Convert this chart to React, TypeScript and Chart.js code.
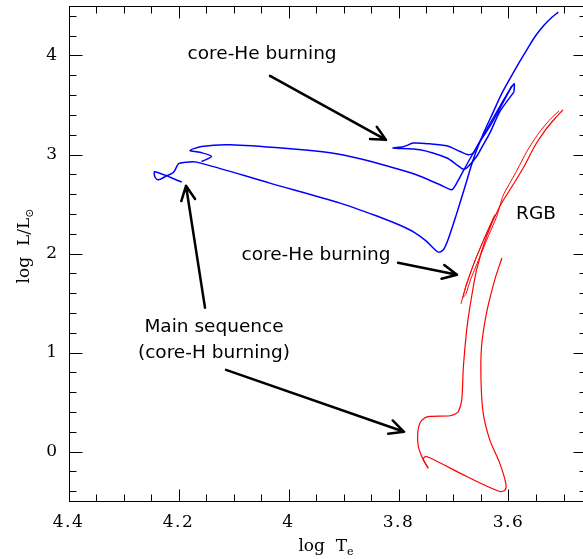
import React, { useEffect, useRef } from "react";
import { Chart, registerables } from "chart.js";
Chart.register(...registerables);

type P = [number, number];

// axis ranges and ticks
const xRange: P = [3.46, 4.4];
const yRange: P = [-0.5, 4.5];
const xTickValues = [4.4, 4.2, 4.0, 3.8, 3.6];
const yTickValues = [0, 1, 2, 3, 4];

// blue track: pre-main-sequence (Hayashi + Henyey) ending on the ZAMS
const bluePreMS: P[] = [
  [3.5095, 4.438], [3.521, 4.386], [3.5355, 4.305], [3.550, 4.204], [3.5645, 4.078],
  [3.581, 3.926], [3.597, 3.770], [3.613, 3.608], [3.628, 3.426], [3.6455, 3.214],
  [3.663, 2.967], [3.679, 2.677], [3.694, 2.408], [3.710, 2.138], [3.7185, 2.037],
  [3.7276, 2.014], [3.7373, 2.058], [3.750, 2.128], [3.770, 2.209], [3.7973, 2.285],
  [3.8336, 2.366], [3.906, 2.509], [4.034, 2.711], [4.167, 2.923], [4.188, 2.921],
  [4.200, 2.906], [4.209, 2.820], [4.223, 2.780], [4.237, 2.744], [4.243, 2.775],
  [4.243, 2.826], [4.194, 2.721],
];

// blue track: main sequence hook, Hertzsprung gap and RGB
const blueGapRGB: P[] = [
  [4.158, 2.929], [4.140, 2.980], [4.161, 3.022], [4.179, 3.040], [4.158, 3.081],
  [4.106, 3.098], [3.997, 3.058], [3.9245, 3.017], [3.870, 2.957], [3.8155, 2.876],
  [3.770, 2.800], [3.7245, 2.694], [3.7033, 2.643], [3.697, 2.684], [3.688, 2.775],
  [3.670, 2.957], [3.643, 3.219], [3.616, 3.482], [3.590, 3.714], [3.590, 3.633],
];

// blue track: core-He burning loop and AGB
const blueCoreHe: P[] = [
  [3.590, 3.633], [3.616, 3.431], [3.634, 3.216], [3.646, 3.098], [3.658, 2.980],
  [3.676, 2.863], [3.683, 2.853], [3.694, 2.896], [3.712, 2.964], [3.761, 3.047],
  [3.810, 3.065], [3.791, 3.078], [3.773, 3.115], [3.743, 3.108], [3.712, 3.088],
  [3.688, 3.030], [3.673, 2.997], [3.664, 3.014], [3.652, 3.131], [3.634, 3.283],
  [3.616, 3.462], [3.594, 3.694],
];

// red track: pre-main-sequence
const redPreMS: P[] = [
  [3.612, 1.954], [3.625, 1.734], [3.640, 1.398], [3.649, 1.061], [3.650, 0.724],
  [3.646, 0.388], [3.634, 0.118], [3.616, -0.117], [3.605, -0.319], [3.606, -0.387],
  [3.616, -0.404], [3.676, -0.253], [3.749, -0.051], [3.755, -0.075], [3.746, -0.168],
];

// red track: main sequence, subgiant branch and RGB
const redMSRGB: P[] = [
  [3.746, -0.168], [3.755, -0.084], [3.764, 0.051], [3.765, 0.186], [3.761, 0.287],
  [3.752, 0.340], [3.743, 0.354], [3.706, 0.361], [3.696, 0.381], [3.691, 0.404],
  [3.685, 0.522], [3.682, 0.859], [3.676, 1.229], [3.670, 1.465], [3.658, 1.835],
  [3.640, 2.172], [3.616, 2.475], [3.594, 2.674], [3.572, 2.876], [3.552, 3.088],
  [3.534, 3.239], [3.516, 3.361], [3.501, 3.451],
];

// red track: core-He burning and AGB
const redCoreHe: P[] = [
  [3.6864, 1.492], [3.676, 1.701], [3.6578, 1.970], [3.6396, 2.206], [3.6245, 2.391],
  [3.6282, 2.351], [3.6436, 2.159], [3.6618, 1.916], [3.6773, 1.667], [3.6827, 1.556],
  [3.6773, 1.593], [3.6691, 1.734], [3.6536, 1.946], [3.6364, 2.179], [3.6209, 2.381],
  [3.610, 2.583], [3.588, 2.805], [3.566, 3.037], [3.546, 3.209], [3.526, 3.345],
  [3.508, 3.441],
];

// annotations (data coordinates)
const noteTexts: { text: string; x: number; y: number }[] = [
  { text: "core-He burning", x: 4.048, y: 4.017 },
  { text: "core-He burning", x: 3.95, y: 1.987 },
  { text: "RGB", x: 3.55, y: 2.401 },
  { text: "Main sequence", x: 4.1355, y: 1.26 },
  { text: "(core-H burning)", x: 4.1355, y: 0.997 },
];
const noteArrows: { from: P; to: P }[] = [
  { from: [4.0336, 3.795], to: [3.8227, 3.148] },
  { from: [3.8009, 1.906], to: [3.6936, 1.785] },
  { from: [4.1518, 1.452], to: [4.1864, 2.684] },
  { from: [4.1136, 0.825], to: [3.79, 0.199] },
];

const toXY = (a: P[]) => a.map(([x, y]) => ({ x, y }));

const decorPlugin = {
  id: "decor",
  beforeDraw(chart: any) {
    try {
      chart.ctx.letterSpacing = "1.5px";
    } catch (e) {}
  },
  afterDraw(chart: any) {
    const { ctx, chartArea: a } = chart;
    const xs = chart.scales.x;
    const ys = chart.scales.y;
    ctx.save();
    try {
      ctx.letterSpacing = "0px";
    } catch (e) {}
    ctx.strokeStyle = "#000";
    ctx.lineWidth = 1;
    const L = Math.round(a.left) + 0.5;
    const R = Math.round(a.right) + 0.5;
    const T = Math.round(a.top) + 0.5;
    const B = Math.round(a.bottom) + 0.5;
    ctx.strokeRect(L, T, R - L, B - T);
    ctx.beginPath();
    // x ticks every 0.05, major every 0.2
    for (let i = 0; i <= 40; i++) {
      const v = 3.4 + i * 0.05;
      if (v < xRange[0] - 1e-9 || v > xRange[1] + 1e-9) continue;
      const major = Math.abs(v * 5 - Math.round(v * 5)) < 1e-6;
      const len = major ? 12 : 7;
      const px = Math.round(xs.getPixelForValue(v)) + 0.5;
      ctx.moveTo(px, B);
      ctx.lineTo(px, B - len);
      ctx.moveTo(px, T);
      ctx.lineTo(px, T + len);
    }
    // y ticks every 0.2, major every 1
    for (let i = 0; i <= 30; i++) {
      const v = -1 + i * 0.2;
      if (v < yRange[0] - 1e-9 || v > yRange[1] + 1e-9) continue;
      const major = Math.abs(v - Math.round(v)) < 1e-6;
      const len = major ? 13 : 7;
      const py = Math.round(ys.getPixelForValue(v)) + 0.5;
      ctx.moveTo(L, py);
      ctx.lineTo(L + len, py);
      ctx.moveTo(R, py);
      ctx.lineTo(R - len, py);
    }
    ctx.stroke();

    // axis titles
    ctx.fillStyle = "#000";
    ctx.textBaseline = "alphabetic";
    ctx.textAlign = "left";
    const big = '17px "DejaVu Serif"';
    const small = '11px "DejaVu Serif"';
    // x title: log T_e
    {
      ctx.font = big;
      const w1 = ctx.measureText("log  ").width;
      const w2 = ctx.measureText("T").width;
      ctx.font = small;
      const w3 = ctx.measureText("e").width;
      const total = w1 + w2 + w3;
      const cx = 326;
      const x0 = cx - total / 2;
      const base = 551;
      ctx.font = big;
      ctx.fillText("log  ", x0, base);
      ctx.fillText("T", x0 + w1, base);
      ctx.font = small;
      ctx.fillText("e", x0 + w1 + w2, base + 4);
    }
    // y title: log L/L_sun
    {
      ctx.font = big;
      const w1 = ctx.measureText("log  L/L").width;
      ctx.font = small;
      const w2 = ctx.measureText("\u2299").width;
      const total = w1 + w2;
      const cy = 246;
      ctx.save();
      ctx.translate(29, cy + total / 2);
      ctx.rotate(-Math.PI / 2);
      ctx.font = big;
      ctx.fillText("log  L/L", 0, 0);
      ctx.font = small;
      ctx.fillText("\u2299", w1, 4);
      ctx.restore();
    }

    // annotation texts
    ctx.font = '18.5px "DejaVu Sans"';
    ctx.textAlign = "center";
    ctx.textBaseline = "middle";
    for (const n of noteTexts) {
      ctx.fillText(n.text, xs.getPixelForValue(n.x), ys.getPixelForValue(n.y));
    }
    // arrows
    ctx.lineWidth = 2.5;
    ctx.lineCap = "round";
    ctx.lineJoin = "round";
    for (const ar of noteArrows) {
      const x1 = xs.getPixelForValue(ar.from[0]);
      const y1 = ys.getPixelForValue(ar.from[1]);
      const x2 = xs.getPixelForValue(ar.to[0]);
      const y2 = ys.getPixelForValue(ar.to[1]);
      const ang = Math.atan2(y2 - y1, x2 - x1);
      const hl = 16;
      const ha = 0.45;
      ctx.beginPath();
      ctx.moveTo(x1, y1);
      ctx.lineTo(x2, y2);
      ctx.moveTo(x2 - hl * Math.cos(ang - ha), y2 - hl * Math.sin(ang - ha));
      ctx.lineTo(x2, y2);
      ctx.lineTo(x2 - hl * Math.cos(ang + ha), y2 - hl * Math.sin(ang + ha));
      ctx.stroke();
    }
    ctx.restore();
  },
};

const zeroPad = (s: any) => {
  s.paddingTop = 0;
  s.paddingBottom = 0;
  s.paddingLeft = 0;
  s.paddingRight = 0;
};

export default function App() {
  const ref = useRef<HTMLCanvasElement | null>(null);
  useEffect(() => {
    if (!ref.current) return;
    const blue = "#0000ff";
    const red = "#ff0000";
    const ds = (data: P[], color: string, w: number, t: number) => ({
      data: toXY(data),
      borderColor: color,
      backgroundColor: color,
      borderWidth: w,
      showLine: true,
      pointRadius: 0,
      tension: t,
      fill: false,
    });
    const chart = new Chart(ref.current, {
      type: "scatter",
      data: {
        datasets: [
          ds(bluePreMS, blue, 1.5, 0.3),
          ds(blueGapRGB, blue, 1.5, 0.3),
          ds(blueCoreHe, blue, 1.5, 0.25),
          ds(redPreMS, red, 1.2, 0.3),
          ds(redMSRGB, red, 1.2, 0.3),
          ds(redCoreHe, red, 1.0, 0.2),
        ],
      },
      options: {
        animation: false,
        responsive: false,
        maintainAspectRatio: false,
        layout: { padding: { left: 0, top: 6, right: 14.5, bottom: 0 } },
        plugins: { legend: { display: false }, tooltip: { enabled: false } },
        scales: {
          x: {
            type: "linear",
            reverse: true,
            min: xRange[0],
            max: xRange[1],
            grid: { display: false, drawTicks: false },
            border: { display: false },
            afterBuildTicks: (s: any) => {
              s.ticks = xTickValues.map((v) => ({ value: v }));
            },
            afterFit: (s: any) => {
              s.height = 58;
              zeroPad(s);
            },
            ticks: {
              autoSkip: false,
              maxRotation: 0,
              minRotation: 0,
              padding: 11,
              color: "#000",
              font: { family: "DejaVu Serif", size: 17 },
              callback: (v: any) => (Math.abs(v - 4) < 1e-9 ? "4" : Number(v).toFixed(1)),
            },
          },
          y: {
            type: "linear",
            min: yRange[0],
            max: yRange[1],
            grid: { display: false, drawTicks: false },
            border: { display: false },
            afterBuildTicks: (s: any) => {
              s.ticks = yTickValues.map((v) => ({ value: v }));
            },
            afterFit: (s: any) => {
              s.width = 68.5;
              zeroPad(s);
            },
            ticks: {
              autoSkip: false,
              padding: 10,
              color: "#000",
              font: { family: "DejaVu Serif", size: 17 },
              callback: (v: any) => String(Math.round(Number(v))),
            },
          },
        },
      },
      plugins: [decorPlugin],
    });
    return () => chart.destroy();
  }, []);
  return (
    <div
      style={{
        position: "fixed",
        left: 0,
        top: 0,
        width: 583,
        height: 559,
        overflow: "hidden",
        background: "#fff",
      }}
    >
      <canvas ref={ref} width={600} height={559} style={{ display: "block" }} />
    </div>
  );
}
